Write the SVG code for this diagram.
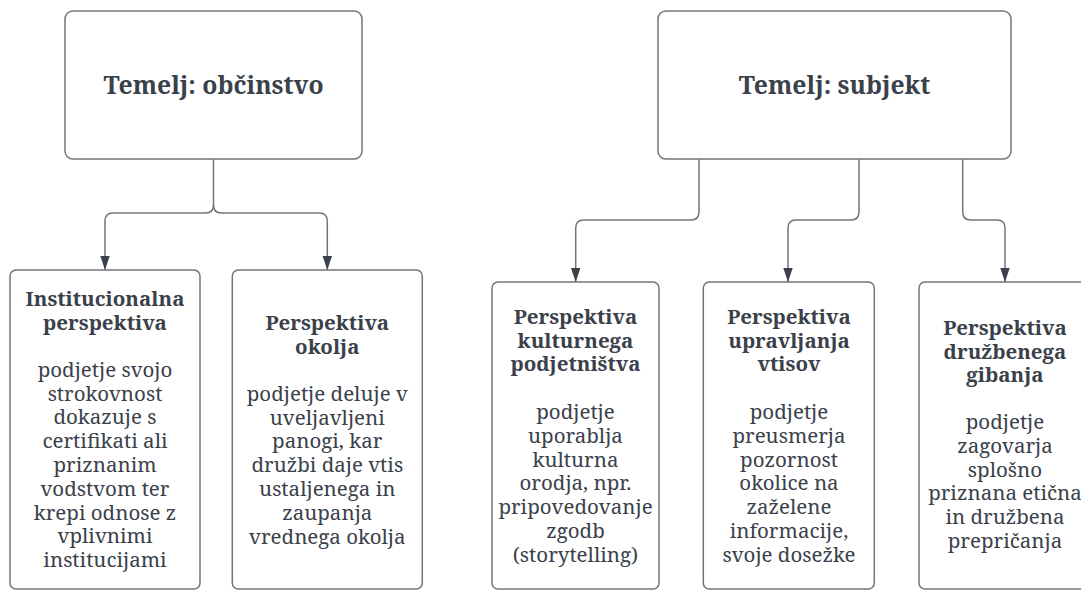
<svg xmlns="http://www.w3.org/2000/svg" width="1081" height="590" viewBox="0 0 1081 590">
<style>
.box{fill:#ffffff;stroke:#71757b;stroke-width:1.5}
.t{font-family:"Noto Serif","DejaVu Serif",serif;fill:#3a414a;text-anchor:middle}
.big{font-size:24.7px;font-weight:bold}
.h{font-size:20.5px;font-weight:bold}
.b{font-size:20.5px}
.c{fill:none;stroke:#71757b;stroke-width:1.5}
</style>
<defs>
<marker id="arr" markerUnits="userSpaceOnUse" markerWidth="14" markerHeight="10" refX="14" refY="4.7" orient="auto">
<path d="M0,0 L14,4.7 L0,9.4 z" fill="#3a414a"/>
</marker>
</defs>
<rect x="0" y="0" width="1081" height="590" fill="#ffffff"/>
<g id="connectors">
<path class="c" d="M213.5,159 V205 Q213.5,213 205.5,213 H113 Q105,213 105,221 V270" marker-end="url(#arr)"/>
<path class="c" d="M213.5,205 Q213.5,213 221.5,213 H319.3 Q327.3,213 327.3,221 V270" marker-end="url(#arr)"/>
<path class="c" d="M699,159 V212 Q699,220 691,220 H583.7 Q575.7,220 575.7,228 V282" marker-end="url(#arr)"/>
<path class="c" d="M859,159 V212 Q859,220 851,220 H796 Q788,220 788,228 V282" marker-end="url(#arr)"/>
<path class="c" d="M962.7,159 V212 Q962.7,220 970.7,220 H997 Q1005,220 1005,228 V282" marker-end="url(#arr)"/>
</g>
<g id="temelj-obcinstvo">
<rect class="box" x="65" y="11" width="297" height="148" rx="8"/>
<text class="t big" x="213.5" y="93.5">Temelj: občinstvo</text>
</g>
<g id="temelj-subjekt">
<rect class="box" x="658" y="11" width="353" height="148" rx="8"/>
<text class="t big" x="834.5" y="93.5">Temelj: subjekt</text>
</g>
<g id="institucionalna">
<rect class="box" x="10" y="270" width="190" height="319" rx="6"/>
<text class="t h" x="105" y="306"><tspan x="105">Institucionalna</tspan><tspan x="105" dy="23.5">perspektiva</tspan></text>
<text class="t b" x="105" y="376.7"><tspan x="105">podjetje svojo</tspan><tspan x="105" dy="23.8">strokovnost</tspan><tspan x="105" dy="23.8">dokazuje s</tspan><tspan x="105" dy="23.8">certifikati ali</tspan><tspan x="105" dy="23.8">priznanim</tspan><tspan x="105" dy="23.8">vodstvom ter</tspan><tspan x="105" dy="23.8">krepi odnose z</tspan><tspan x="105" dy="23.8">vplivnimi</tspan><tspan x="105" dy="23.8">institucijami</tspan></text>
</g>
<g id="okolja">
<rect class="box" x="232.3" y="270" width="190" height="319" rx="6"/>
<text class="t h" x="327.3" y="330"><tspan x="327.3">Perspektiva</tspan><tspan x="327.3" dy="23.5">okolja</tspan></text>
<text class="t b" x="327.3" y="400.7"><tspan x="327.3">podjetje deluje v</tspan><tspan x="327.3" dy="23.8">uveljavljeni</tspan><tspan x="327.3" dy="23.8">panogi, kar</tspan><tspan x="327.3" dy="23.8">družbi daje vtis</tspan><tspan x="327.3" dy="23.8">ustaljenega in</tspan><tspan x="327.3" dy="23.8">zaupanja</tspan><tspan x="327.3" dy="23.8">vrednega okolja</tspan></text>
</g>
<g id="kulturnega">
<rect class="box" x="492" y="282" width="167" height="307" rx="6"/>
<text class="t h" x="575.5" y="324"><tspan x="575.5">Perspektiva</tspan><tspan x="575.5" dy="23.5">kulturnega</tspan><tspan x="575.5" dy="23.5">podjetništva</tspan></text>
<text class="t b" x="575.5" y="419"><tspan x="575.5">podjetje</tspan><tspan x="575.5" dy="23.8">uporablja</tspan><tspan x="575.5" dy="23.8">kulturna</tspan><tspan x="575.5" dy="23.8">orodja, npr.</tspan><tspan x="575.5" dy="23.8">pripovedovanje</tspan><tspan x="575.5" dy="23.8">zgodb</tspan><tspan x="575.5" dy="23.8">(storytelling)</tspan></text>
</g>
<g id="upravljanja">
<rect class="box" x="703.3" y="282" width="171" height="307" rx="6"/>
<text class="t h" x="789" y="324"><tspan x="789">Perspektiva</tspan><tspan x="789" dy="23.5">upravljanja</tspan><tspan x="789" dy="23.5">vtisov</tspan></text>
<text class="t b" x="789" y="419"><tspan x="789">podjetje</tspan><tspan x="789" dy="23.8">preusmerja</tspan><tspan x="789" dy="23.8">pozornost</tspan><tspan x="789" dy="23.8">okolice na</tspan><tspan x="789" dy="23.8">zaželene</tspan><tspan x="789" dy="23.8">informacije,</tspan><tspan x="789" dy="23.8">svoje dosežke</tspan></text>
</g>
<g id="druzbenega">
<rect class="box" x="919" y="282" width="172" height="307" rx="6"/>
<text class="t h" x="1005" y="335"><tspan x="1005">Perspektiva</tspan><tspan x="1005" dy="23.5">družbenega</tspan><tspan x="1005" dy="23.5">gibanja</tspan></text>
<text class="t b" x="1005" y="429"><tspan x="1005">podjetje</tspan><tspan x="1005" dy="23.8">zagovarja</tspan><tspan x="1005" dy="23.8">splošno</tspan><tspan x="1005" dy="23.8">priznana etična</tspan><tspan x="1005" dy="23.8">in družbena</tspan><tspan x="1005" dy="23.8">prepričanja</tspan></text>
</g>
</svg>
